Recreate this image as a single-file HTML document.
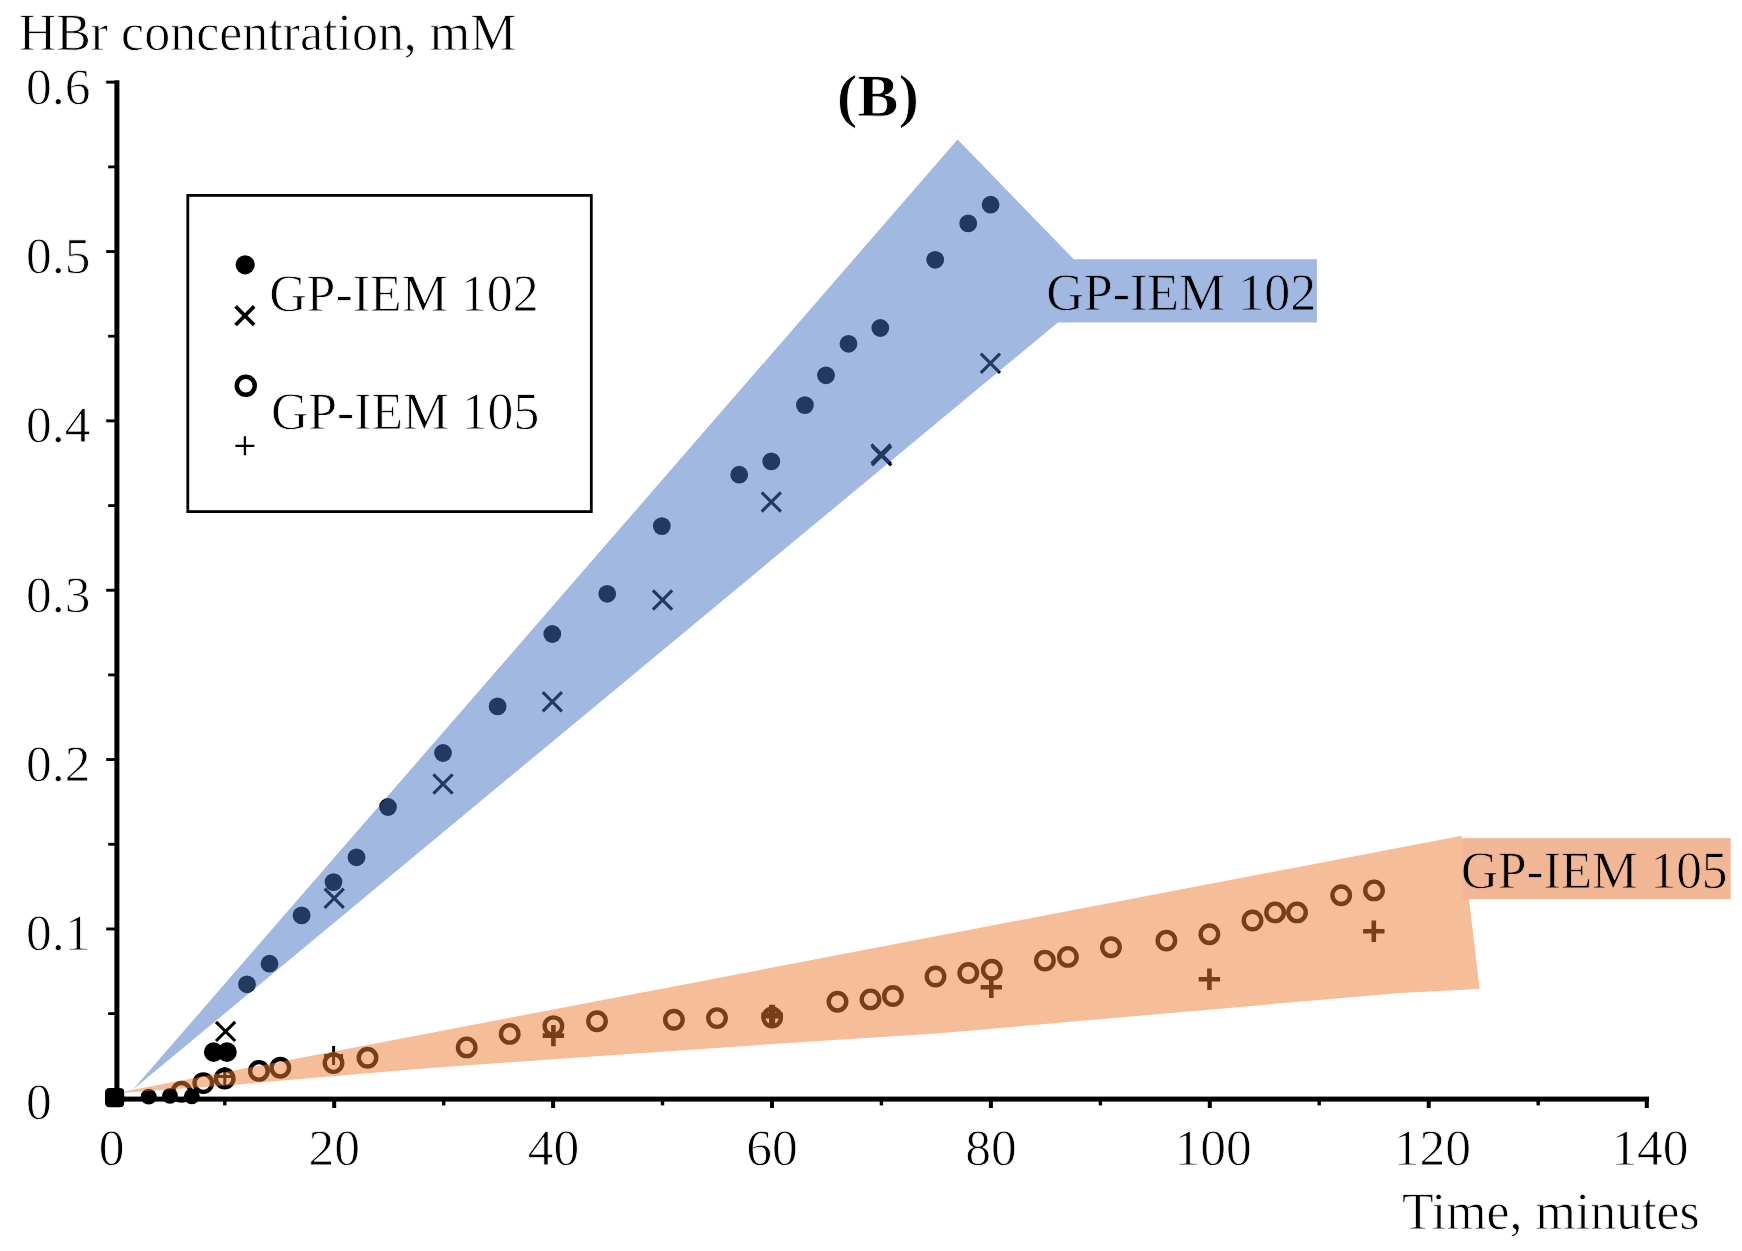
<!DOCTYPE html>
<html lang="en"><head><meta charset="utf-8"><title>HBr concentration vs time (B)</title>
<style>html,body{margin:0;padding:0;background:#fff}body{width:1742px;height:1251px;overflow:hidden}svg{display:block}text{font-family:"Liberation Serif",serif;fill:#000;text-rendering:geometricPrecision}</style>
</head><body>
<svg width="1742" height="1251" viewBox="0 0 1742 1251">
<rect width="1742" height="1251" fill="#fff"/>
<g id="axes" fill="#000">
<rect x="114.4" y="80.3" width="5.0" height="1021.3"/>
<rect x="114.4" y="1096.6" width="1534.6" height="5.0"/>
<rect x="108.2" y="1012.2" width="8" height="2.8"/>
<rect x="106.2" y="927.5" width="10" height="2.9"/>
<rect x="108.2" y="842.9" width="8" height="2.8"/>
<rect x="106.2" y="758.1" width="10" height="2.9"/>
<rect x="108.2" y="673.5" width="8" height="2.8"/>
<rect x="106.2" y="588.8" width="10" height="2.9"/>
<rect x="108.2" y="504.2" width="8" height="2.8"/>
<rect x="106.2" y="419.4" width="10" height="2.9"/>
<rect x="108.2" y="334.8" width="8" height="2.8"/>
<rect x="106.2" y="250.1" width="10" height="2.9"/>
<rect x="108.2" y="165.5" width="8" height="2.8"/>
<rect x="106.2" y="80.7" width="10" height="2.9"/>
<rect x="223.1" y="1100" width="3.4" height="5.4"/>
<rect x="332.2" y="1100" width="4.0" height="8"/>
<rect x="442.0" y="1100" width="3.4" height="5.4"/>
<rect x="551.1" y="1100" width="4.0" height="8"/>
<rect x="660.8" y="1100" width="3.4" height="5.4"/>
<rect x="770.0" y="1100" width="4.0" height="8"/>
<rect x="879.7" y="1100" width="3.4" height="5.4"/>
<rect x="988.9" y="1100" width="4.0" height="8"/>
<rect x="1098.7" y="1100" width="3.4" height="5.4"/>
<rect x="1207.8" y="1100" width="4.0" height="8"/>
<rect x="1317.5" y="1100" width="3.4" height="5.4"/>
<rect x="1426.7" y="1100" width="4.0" height="8"/>
<rect x="1536.5" y="1100" width="3.4" height="5.4"/>
<rect x="1644.8" y="1100" width="4.0" height="8"/>
</g>
<g id="markers">
<g fill="#000">
<circle cx="114.9" cy="1097.6" r="8.9"/>
<circle cx="148.7" cy="1096.6" r="7.9"/>
<circle cx="170" cy="1095.9" r="7.9"/>
<circle cx="191.8" cy="1096.3" r="7.9"/>
<circle cx="213.7" cy="1052.1" r="9.8"/>
<circle cx="227.0" cy="1052.1" r="9.8"/>
<circle cx="247" cy="984.3" r="8.9"/>
<circle cx="269.5" cy="963.7" r="8.9"/>
<circle cx="301.6" cy="915.4" r="8.9"/>
<circle cx="333.5" cy="882.1" r="8.9"/>
<circle cx="356.5" cy="857.3" r="8.9"/>
<circle cx="388" cy="807" r="8.9"/>
<circle cx="443" cy="753" r="8.9"/>
<circle cx="497.6" cy="706.4" r="8.9"/>
<circle cx="552.3" cy="634" r="8.9"/>
<circle cx="607.2" cy="593.8" r="8.9"/>
<circle cx="661.8" cy="526.1" r="8.9"/>
<circle cx="739.2" cy="474.7" r="8.9"/>
<circle cx="771.3" cy="461.4" r="8.9"/>
<circle cx="804.9" cy="405.1" r="8.9"/>
<circle cx="826" cy="375.3" r="8.9"/>
<circle cx="848.5" cy="343.8" r="8.9"/>
<circle cx="880.3" cy="328.0" r="8.9"/>
<circle cx="935.2" cy="259.8" r="8.9"/>
<circle cx="968.2" cy="223.4" r="8.9"/>
<circle cx="990.6" cy="204.7" r="8.9"/>
<rect x="105" y="1088" width="19.2" height="19.2" rx="4.5"/>
</g>
<g stroke="#000" stroke-width="3.1" fill="none">
<path d="M106.7 1089.4L123.1 1105.8M106.7 1105.8L123.1 1089.4"/>
<path d="M216.0 1021.8L235.2 1041.0M216.0 1041.0L235.2 1021.8"/>
<path d="M324.6 888.6L343.8 907.8M324.6 907.8L343.8 888.6"/>
<path d="M433.4 774.4L452.6 793.6M433.4 793.6L452.6 774.4"/>
<path d="M542.7 692.2L561.9 711.4M542.7 711.4L561.9 692.2"/>
<path d="M652.9 590.4L672.1 609.6M652.9 609.6L672.1 590.4"/>
<path d="M761.7 492.4L780.9 511.6M761.7 511.6L780.9 492.4"/>
<path d="M872.0 446.1L891.2 465.3M872.0 465.3L891.2 446.1"/>
<path d="M871.4 444.4L890.6 463.6M871.4 463.6L890.6 444.4"/>
<path d="M980.8 353.6L1000.0 372.8M980.8 372.8L1000.0 353.6"/>
</g>
<g stroke="#000" stroke-width="4.4" fill="none">
<circle cx="181.5" cy="1091.8" r="8.75"/>
<circle cx="203.3" cy="1083.1" r="8.75"/>
<circle cx="224.7" cy="1078.5" r="8.75"/>
<circle cx="258.9" cy="1070.9" r="8.75"/>
<circle cx="280.3" cy="1067.7" r="8.75"/>
<circle cx="333.5" cy="1063.1" r="8.75"/>
<circle cx="367.5" cy="1057.8" r="8.75"/>
<circle cx="466.7" cy="1047.4" r="8.75"/>
<circle cx="509.7" cy="1033.9" r="8.75"/>
<circle cx="553.4" cy="1026.1" r="8.75"/>
<circle cx="597" cy="1021.2" r="8.75"/>
<circle cx="673.9" cy="1019.8" r="8.75"/>
<circle cx="717" cy="1018.1" r="8.75"/>
<circle cx="772.1" cy="1017.5" r="8.75"/>
<circle cx="837.5" cy="1001.7" r="8.75"/>
<circle cx="870.5" cy="999.4" r="8.75"/>
<circle cx="892.9" cy="996" r="8.75"/>
<circle cx="935.5" cy="976.5" r="8.75"/>
<circle cx="968.3" cy="973" r="8.75"/>
<circle cx="991.8" cy="969.8" r="8.75"/>
<circle cx="1044.9" cy="960.6" r="8.75"/>
<circle cx="1067.9" cy="956.9" r="8.75"/>
<circle cx="1111" cy="947.2" r="8.75"/>
<circle cx="1166.4" cy="940.6" r="8.75"/>
<circle cx="1209.4" cy="934.2" r="8.75"/>
<circle cx="1252.5" cy="920.5" r="8.75"/>
<circle cx="1275.1" cy="912.4" r="8.75"/>
<circle cx="1297" cy="912.4" r="8.75"/>
<circle cx="1341.2" cy="895.2" r="8.75"/>
<circle cx="1374.0" cy="890.4" r="8.75"/>
</g>
<g stroke="#000" stroke-width="3" fill="none">
<path d="M105.4 1097.6H124.4M114.9 1088.1V1107.1"/>
<path d="M215.3 1076.5H234.3M224.8 1067.0V1086.0"/>
<path d="M324.1 1055.6H343.1M333.6 1046.1V1065.1"/>
</g>
<g stroke="#000" stroke-width="4.6" fill="none">
<path d="M542.7 1035.6H564.1M553.4 1024.9V1046.3"/>
<path d="M761.4 1015.5H782.8M772.1 1004.8V1026.2" stroke-width="6.2"/>
<path d="M980.6 987.3H1002.0M991.3 976.6V998.0"/>
<path d="M1198.7 979.3H1220.1M1209.4 968.6V990.0"/>
<path d="M1363.1 931.2H1384.5M1373.8 920.5V941.9"/>
</g>
</g>
<g id="bands">
<path d="M133 1089.5L957.6 139.6L1073.8 259.3H1316.9V322.4H1058Z" fill="#4472C4" fill-opacity="0.5"/>
<path d="M124 1091.5L1461.6 835.8L1479.6 989.0L1400 993L940 1033.2L800 1042.2L600 1056L430 1068L312 1078L238.6 1084.4L183 1088.4L126 1092.6Z" fill="#ED7D31" fill-opacity="0.5"/>
<rect x="1462.2" y="838.1" width="268.5" height="61.1" fill="#F2B896"/>
</g>
<g id="legend">
<rect x="187.8" y="195.4" width="403.5" height="316.2" fill="#fff" stroke="#000" stroke-width="2.8"/>
<circle cx="245.2" cy="264.8" r="9.6" fill="#000"/>
<path d="M235.6 306.4L254.2 325.0M235.6 325.0L254.2 306.4" stroke="#000" stroke-width="3.7" fill="none"/>
<circle cx="245.8" cy="385.7" r="9" fill="none" stroke="#000" stroke-width="4.5"/>
<path d="M235.4 445.8H254.4M244.9 436.3V455.3" stroke="#000" stroke-width="2.3" fill="none"/>
</g>
<g id="labels" font-size="52.6" stroke="#fff" stroke-width="0.8" stroke-linejoin="round">
<text x="18.67" y="49.5" textLength="497.80" lengthAdjust="spacingAndGlyphs">HBr concentration, mM</text>
<text x="26.14" y="1119.2" textLength="25.75" lengthAdjust="spacingAndGlyphs" font-size="50.8">0</text>
<text x="26.01" y="950.4" textLength="64.38" lengthAdjust="spacingAndGlyphs" font-size="50.8">0.1</text>
<text x="26.01" y="781.1" textLength="64.38" lengthAdjust="spacingAndGlyphs" font-size="50.8">0.2</text>
<text x="26.01" y="611.8" textLength="64.38" lengthAdjust="spacingAndGlyphs" font-size="50.8">0.3</text>
<text x="26.01" y="442.4" textLength="64.38" lengthAdjust="spacingAndGlyphs" font-size="50.8">0.4</text>
<text x="26.01" y="273.0" textLength="64.38" lengthAdjust="spacingAndGlyphs" font-size="50.8">0.5</text>
<text x="26.01" y="103.7" textLength="64.38" lengthAdjust="spacingAndGlyphs" font-size="50.8">0.6</text>
<text x="98.73" y="1165.4" textLength="25.75" lengthAdjust="spacingAndGlyphs" font-size="50.8">0</text>
<text x="308.64" y="1165.4" textLength="51.50" lengthAdjust="spacingAndGlyphs" font-size="50.8">20</text>
<text x="527.65" y="1165.4" textLength="51.50" lengthAdjust="spacingAndGlyphs" font-size="50.8">40</text>
<text x="746.16" y="1165.4" textLength="51.50" lengthAdjust="spacingAndGlyphs" font-size="50.8">60</text>
<text x="965.18" y="1165.4" textLength="51.50" lengthAdjust="spacingAndGlyphs" font-size="50.8">80</text>
<text x="1174.64" y="1165.4" textLength="77.25" lengthAdjust="spacingAndGlyphs" font-size="50.8">100</text>
<text x="1393.77" y="1165.4" textLength="77.25" lengthAdjust="spacingAndGlyphs" font-size="50.8">120</text>
<text x="1611.38" y="1165.4" textLength="77.25" lengthAdjust="spacingAndGlyphs" font-size="50.8">140</text>
<text x="1401.93" y="1228.7" textLength="297.83" lengthAdjust="spacingAndGlyphs">Time, minutes</text>
<text x="269.17" y="310.9" textLength="269.45" lengthAdjust="spacingAndGlyphs">GP-IEM 102</text>
<text x="271.06" y="429.3" textLength="268.20" lengthAdjust="spacingAndGlyphs">GP-IEM 105</text>
<text x="1046.29" y="309.7" textLength="269.91" lengthAdjust="spacingAndGlyphs" stroke="#A1B8E1">GP-IEM 102</text>
<text x="1461.02" y="888.0" textLength="266.52" lengthAdjust="spacingAndGlyphs" stroke="#F2B896">GP-IEM 105</text>
<text x="836.73" y="116.0" textLength="82.37" lengthAdjust="spacingAndGlyphs" font-size="60" font-weight="bold">(B)</text>
</g>
</svg>
</body></html>
